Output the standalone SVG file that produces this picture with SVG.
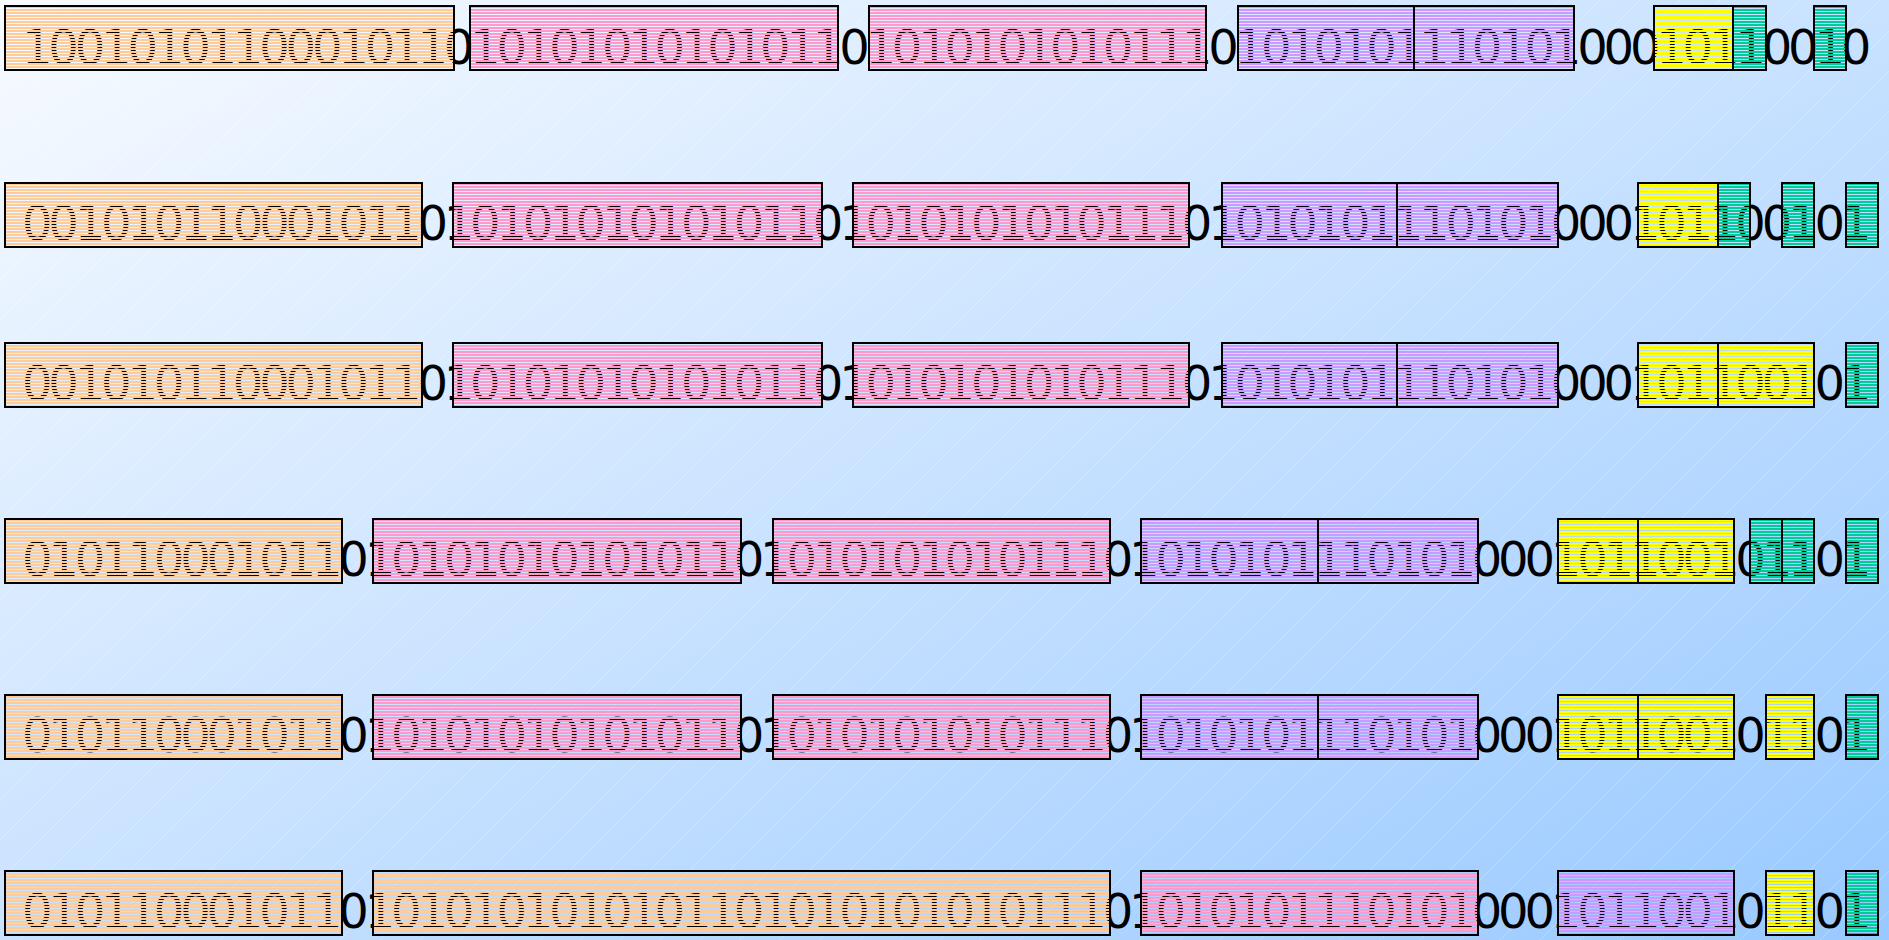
<svg xmlns="http://www.w3.org/2000/svg" width="1889" height="940" viewBox="0 0 1889 940">
<defs>
<linearGradient id="bg" x1="0" y1="0" x2="1" y2="1">
<stop offset="0" stop-color="#f8fbff"/>
<stop offset="1" stop-color="#99c9ff"/>
</linearGradient>
<pattern id="hatch" width="40" height="40" patternUnits="userSpaceOnUse">
<path d="M0 40 L40 0" stroke="#ffffff" stroke-width="1" stroke-opacity="0.25"/>
</pattern>
<pattern id="pO" width="20" height="3" patternUnits="userSpaceOnUse"><rect width="20" height="2" fill="#ffcc99"/></pattern>
<pattern id="pP" width="20" height="3" patternUnits="userSpaceOnUse"><rect width="20" height="2" fill="#ff99cc"/></pattern>
<pattern id="pU" width="20" height="3" patternUnits="userSpaceOnUse"><rect width="20" height="2" fill="#cc99ff"/></pattern>
<pattern id="pY" width="20" height="3" patternUnits="userSpaceOnUse"><rect width="20" height="2" fill="#ffff00"/></pattern>
<pattern id="pT" width="20" height="3" patternUnits="userSpaceOnUse"><rect width="20" height="2" fill="#00cc99"/></pattern>
</defs>
<style>
.bits{font-family:"DejaVu Sans",sans-serif;font-size:48px;fill:#000;letter-spacing:-4.18px}
.b{stroke:#000;stroke-width:2}
.o{fill:url(#pO)}.p{fill:url(#pP)}.u{fill:url(#pU)}.y{fill:url(#pY)}.t{fill:url(#pT)}
</style>
<rect width="1889" height="940" fill="url(#bg)"/>
<rect width="1889" height="940" fill="url(#hatch)"/>
<g id="texts">
<text class="bits" x="22" y="63.5">1001010110001011010101010101011010101010101110101010111010100010110010</text>
<text class="bits" x="22" y="239.5">0010101100010110101010101010110101010101011101010101110101000101100101</text>
<text class="bits" x="22" y="399.5">0010101100010110101010101010110101010101011101010101110101000101100101</text>
<text class="bits" x="22" y="576">0101100010110101010101010110101010101011101010101110101000101100101101</text>
<text class="bits" x="22" y="751.5">0101100010110101010101010110101010101011101010101110101000101100101101</text>
<text class="bits" x="22" y="927.5">0101100010110101010101010110101010101011101010101110101000101100101101</text>
</g>
<g id="row1">
<rect id="r1a" class="b o" x="5" y="6" width="449" height="64"/>
<rect id="r1b" class="b p" x="470" y="6" width="368" height="64"/>
<rect id="r1c" class="b p" x="869" y="6" width="337" height="64"/>
<rect id="r1d" class="b u" x="1238" y="6" width="176" height="64"/>
<rect id="r1e" class="b u" x="1414" y="6" width="160" height="64"/>
<rect id="r1f" class="b y" x="1654" y="6" width="79" height="64"/>
<rect id="r1g" class="b t" x="1733" y="6" width="33" height="64"/>
<rect id="r1h" class="b t" x="1814" y="6" width="32" height="64"/>
</g>
<g id="row2">
<rect id="r2a" class="b o" x="5" y="183" width="417" height="64"/>
<rect id="r2b" class="b p" x="453" y="183" width="369" height="64"/>
<rect id="r2c" class="b p" x="853" y="183" width="336" height="64"/>
<rect id="r2d" class="b u" x="1222" y="183" width="175" height="64"/>
<rect id="r2e" class="b u" x="1397" y="183" width="161" height="64"/>
<rect id="r2f" class="b y" x="1638" y="183" width="80" height="64"/>
<rect id="r2g" class="b t" x="1718" y="183" width="32" height="64"/>
<rect id="r2h" class="b t" x="1782" y="183" width="32" height="64"/>
<rect id="r2i" class="b t" x="1846" y="183" width="32" height="64"/>
</g>
<g id="row3">
<rect id="r3a" class="b o" x="5" y="343" width="417" height="64"/>
<rect id="r3b" class="b p" x="453" y="343" width="369" height="64"/>
<rect id="r3c" class="b p" x="853" y="343" width="336" height="64"/>
<rect id="r3d" class="b u" x="1222" y="343" width="175" height="64"/>
<rect id="r3e" class="b u" x="1397" y="343" width="161" height="64"/>
<rect id="r3f" class="b y" x="1638" y="343" width="80" height="64"/>
<rect id="r3g" class="b y" x="1718" y="343" width="96" height="64"/>
<rect id="r3h" class="b t" x="1846" y="343" width="32" height="64"/>
</g>
<g id="row4">
<rect id="r4a" class="b o" x="5" y="519" width="337" height="64"/>
<rect id="r4b" class="b p" x="373" y="519" width="368" height="64"/>
<rect id="r4c" class="b p" x="773" y="519" width="337" height="64"/>
<rect id="r4d" class="b u" x="1141" y="519" width="177" height="64"/>
<rect id="r4e" class="b u" x="1318" y="519" width="160" height="64"/>
<rect id="r4f" class="b y" x="1558" y="519" width="80" height="64"/>
<rect id="r4g" class="b y" x="1638" y="519" width="96" height="64"/>
<rect id="r4h" class="b t" x="1750" y="519" width="32" height="64"/>
<rect id="r4i" class="b t" x="1782" y="519" width="32" height="64"/>
<rect id="r4j" class="b t" x="1846" y="519" width="32" height="64"/>
</g>
<g id="row5">
<rect id="r5a" class="b o" x="5" y="695" width="337" height="64"/>
<rect id="r5b" class="b p" x="373" y="695" width="368" height="64"/>
<rect id="r5c" class="b p" x="773" y="695" width="337" height="64"/>
<rect id="r5d" class="b u" x="1141" y="695" width="177" height="64"/>
<rect id="r5e" class="b u" x="1318" y="695" width="160" height="64"/>
<rect id="r5f" class="b y" x="1558" y="695" width="80" height="64"/>
<rect id="r5g" class="b y" x="1638" y="695" width="96" height="64"/>
<rect id="r5h" class="b y" x="1766" y="695" width="48" height="64"/>
<rect id="r5i" class="b t" x="1846" y="695" width="32" height="64"/>
</g>
<g id="row6">
<rect id="r6a" class="b o" x="5" y="871" width="337" height="64"/>
<rect id="r6b" class="b o" x="373" y="871" width="737" height="64"/>
<rect id="r6c" class="b p" x="1141" y="871" width="337" height="64"/>
<rect id="r6d" class="b u" x="1558" y="871" width="176" height="64"/>
<rect id="r6e" class="b y" x="1766" y="871" width="48" height="64"/>
<rect id="r6f" class="b t" x="1846" y="871" width="32" height="64"/>
</g>
</svg>
